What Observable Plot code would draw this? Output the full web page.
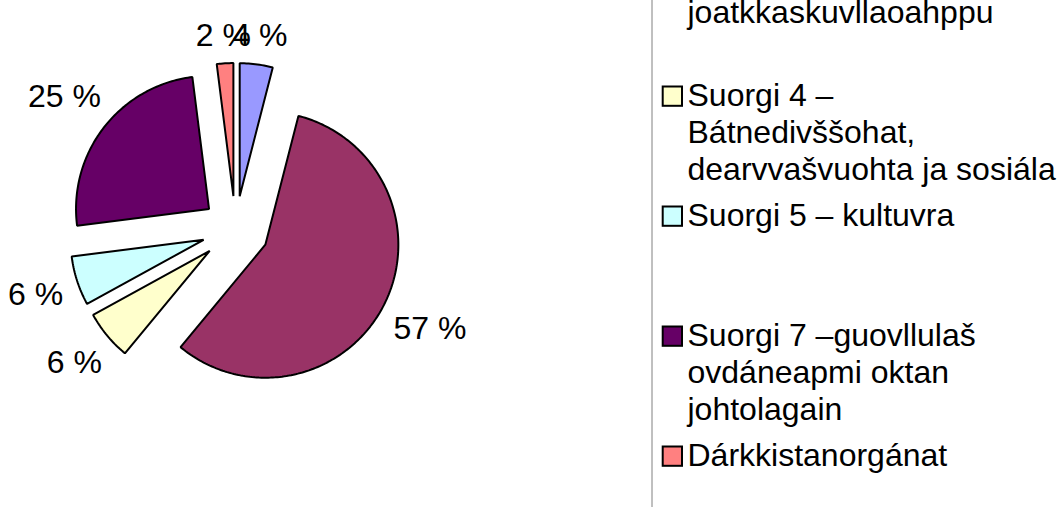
<!DOCTYPE html>
<html><head><meta charset="utf-8">
<script src="https://cdn.jsdelivr.net/npm/d3@7"></script>
<script src="https://cdn.jsdelivr.net/npm/@observablehq/plot@0.6"></script>
<style>html,body{margin:0;padding:0;background:#fff;overflow:hidden}</style>
</head><body><div id="chart"></div>
<script>
// ---- data ----
const categories = [
  "Suorgi 1 – Hálddahus",
  "Suorgi 2 – Vuođđoskuvla ja\njoatkkaskuvllaoahppu",
  "Suorgi 4 –\nBátnedivššohat,\ndearvvašvuohta ja sosiála",
  "Suorgi 5 – kultuvra",
  "Suorgi 7 –guovllulaš\novdáneapmi oktan\njohtolagain",
  "Dárkkistanorgánat"
];
const shares = [4, 57, 6, 6, 25, 2];
const sliceColors = ["#9999FF", "#993366", "#FFFFCC", "#CCFFFF", "#660066", "#FF8080"];
const labelSuffix = " %";

// ---- layout ----
const W = 1063, H = 507;
const cx = 235, cy = 229, R = 133, explode = 33.5;
const fontSize = 32;
const legendStep = 120, lineStep = 36.8, legendBase0 = 105.5 - 2 * 120;

const pie = d3.pie().sort(null)(shares);
const ctx = document.createElement("canvas").getContext("2d");
ctx.font = `${fontSize}px "Liberation Sans", Arial, sans-serif`;

const slicePts = [], labels = [];
pie.forEach((p, i) => {
  const mid = (p.startAngle + p.endAngle) / 2;
  const ux = Math.sin(mid), uy = -Math.cos(mid);
  const ax = cx + explode * ux, ay = cy + explode * uy;
  slicePts.push({slice: i, x: ax, y: ay, fill: sliceColors[i]});
  const n = Math.max(2, Math.ceil((p.endAngle - p.startAngle) / (Math.PI / 180)));
  for (let k = 0; k <= n; k++) {
    const a = p.startAngle + (p.endAngle - p.startAngle) * k / n;
    slicePts.push({slice: i, x: ax + R * Math.sin(a), y: ay - R * Math.cos(a), fill: sliceColors[i]});
  }
  const text = `${shares[i]}${labelSuffix}`;
  const w = ctx.measureText(text).width, h = 0.72 * fontSize;
  const support = (Math.abs(ux) * w + Math.abs(uy) * h) / 2;
  const d = R + 14 + support;
  labels.push({x: ax + d * ux, y: ay + d * uy, text});
});

const legendLines = [], legendSwatches = [];
categories.forEach((c, i) => {
  const base = legendBase0 + i * legendStep;
  c.split("\n").forEach((line, j) => legendLines.push({x: 687, y: base + j * lineStep, text: line}));
  legendSwatches.push({x1: 662.7, x2: 682, y1: base - 19, y2: base + 0.3, fill: sliceColors[i]});
});

const chart = Plot.plot({
  width: W, height: H, margin: 0,
  x: {domain: [0, W], range: [0, W], axis: null},
  y: {domain: [0, H], range: [0, H], axis: null},
  color: {type: "identity"},
  style: {fontFamily: '"Liberation Sans", Arial, sans-serif', background: "#fff", color: "#000"},
  marks: [
    Plot.ruleX([651.5], {stroke: "#808080", strokeWidth: 1}),
    Plot.line(slicePts, {x: "x", y: "y", z: "slice", fill: "fill", stroke: "#000", strokeWidth: 2, curve: "linear-closed", strokeLinejoin: "miter"}),
    Plot.text(labels, {x: "x", y: "y", text: "text", fontSize, textAnchor: "middle", lineAnchor: "middle", fill: "#000"}),
    Plot.rect(legendSwatches, {x1: "x1", x2: "x2", y1: "y1", y2: "y2", fill: "fill", stroke: "#000", strokeWidth: 2}),
    Plot.text(legendLines, {x: "x", y: "y", text: "text", fontSize, textAnchor: "start", lineAnchor: "bottom", fill: "#000"})
  ]
});
document.getElementById("chart").appendChild(chart);
</script>
</body></html>
